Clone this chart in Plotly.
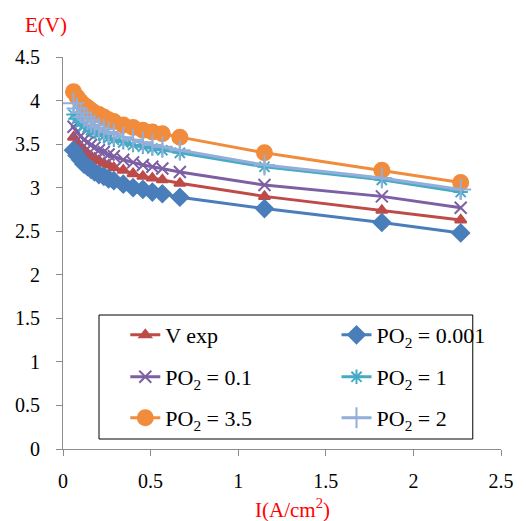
import plotly.graph_objects as go

current = [0.06, 0.08, 0.10, 0.12, 0.14, 0.16, 0.18, 0.205, 0.233, 0.26, 0.29, 0.344, 0.40, 0.456, 0.51, 0.567, 0.667, 1.15, 1.82, 2.27]

v_exp   = [3.58, 3.52, 3.47, 3.43, 3.39, 3.36, 3.34, 3.31, 3.28, 3.26, 3.23, 3.20, 3.16, 3.13, 3.11, 3.09, 3.05, 2.90, 2.74, 2.63]
po2_0001 = [3.43, 3.37, 3.32, 3.27, 3.24, 3.21, 3.18, 3.15, 3.13, 3.10, 3.08, 3.04, 3.00, 2.98, 2.95, 2.93, 2.89, 2.76, 2.60, 2.48]
po2_01  = [3.70, 3.64, 3.59, 3.55, 3.52, 3.49, 3.46, 3.43, 3.41, 3.38, 3.36, 3.32, 3.29, 3.26, 3.24, 3.22, 3.18, 3.03, 2.90, 2.77]
po2_1   = [3.84, 3.79, 3.75, 3.71, 3.69, 3.66, 3.64, 3.62, 3.59, 3.57, 3.55, 3.52, 3.49, 3.47, 3.45, 3.43, 3.40, 3.24, 3.09, 2.95]
po2_35  = [4.10, 4.04, 3.99, 3.95, 3.92, 3.89, 3.86, 3.84, 3.81, 3.78, 3.76, 3.72, 3.69, 3.66, 3.64, 3.62, 3.58, 3.40, 3.20, 3.06]
po2_2   = [3.97, 3.91, 3.86, 3.81, 3.78, 3.75, 3.72, 3.69, 3.67, 3.64, 3.62, 3.58, 3.55, 3.52, 3.49, 3.47, 3.43, 3.26, 3.11, 2.98]

names = ["V exp", "PO<sub>2</sub> = 0.001", "PO<sub>2</sub> = 0.1", "PO<sub>2</sub> = 1", "PO<sub>2</sub> = 3.5", "PO<sub>2</sub> = 2"]
series = [v_exp, po2_0001, po2_01, po2_1, po2_35, po2_2]

colors = ["#BE4B48", "#4A7EBB", "#7D5FA3", "#46AAC5", "#F08C3C", "#94AEDA"]
symbols = ["triangle-up", "diamond", "x-thin-open", "asterisk-open", "circle", "cross-thin-open"]
msizes = [10, 13, 12, 12, 15, 15]

FONT = "Times New Roman, Liberation Serif, DejaVu Serif, serif"

fig = go.Figure()
legend_ids = ["legend", "legend2", "legend3", "legend4", "legend5", "legend6"]
for i, (nm, ys) in enumerate(zip(names, series)):
    fig.add_trace(go.Scatter(
        x=current, y=ys, name=nm, mode="lines+markers",
        line=dict(color=colors[i], width=3),
        marker=dict(symbol=symbols[i], size=msizes[i], color=colors[i],
                    line=dict(color=colors[i], width=2)),
        legend=legend_ids[i],
    ))

W, H = 526, 521
L, R, T, B = 63, 13, 57, 72
pw, ph = W - L - R, H - T - B

def px_x(p):
    return (p - L) / pw

def px_y(p):
    return (H - B - p) / ph

col_x = [px_x(127), px_x(344)]
row_y = [px_y(335), px_y(377), px_y(418)]
leg_common = dict(bgcolor="rgba(0,0,0,0)", borderwidth=0, font=dict(family=FONT, size=22, color="black"),
                  xanchor="left", yanchor="middle", itemwidth=30)
positions = [(0, 0), (1, 0), (0, 1), (1, 1), (0, 2), (1, 2)]
legends = {}
for lid, (c, r) in zip(legend_ids, positions):
    legends[lid] = dict(x=col_x[c], y=row_y[r], **leg_common)

fig.update_layout(
    width=W, height=H,
    margin=dict(l=L, r=R, t=T, b=B, pad=0),
    paper_bgcolor="white", plot_bgcolor="white",
    font=dict(family=FONT, size=20, color="black"),
    showlegend=True,
    xaxis=dict(range=[0, 2.5], dtick=0.5, showgrid=False, zeroline=False,
               showline=True, linecolor="#8C8C8C", linewidth=1,
               ticks="outside", ticklen=6, tickcolor="#8C8C8C",
               tickfont=dict(family=FONT, size=20, color="black"),
               ticklabelstandoff=8),
    yaxis=dict(range=[0, 4.5], dtick=0.5, showgrid=False, zeroline=False,
               showline=True, linecolor="#8C8C8C", linewidth=1,
               ticks="outside", ticklen=6, tickcolor="#8C8C8C",
               tickfont=dict(family=FONT, size=20, color="black"),
               ticklabelstandoff=12),
    shapes=[dict(type="rect", xref="paper", yref="paper",
                 x0=px_x(100), x1=px_x(484), y0=px_y(439), y1=px_y(315),
                 line=dict(color="black", width=1), fillcolor="white", layer="below")],
    annotations=[
        dict(text="E(V)", xref="paper", yref="paper", x=px_x(46), y=px_y(25),
             xanchor="center", yanchor="middle", showarrow=False,
             font=dict(family=FONT, size=21, color="red")),
        dict(text="I(A/cm<sup>2</sup>)", xref="paper", yref="paper", x=px_x(299), y=px_y(508),
             xanchor="center", yanchor="middle", showarrow=False,
             font=dict(family=FONT, size=21, color="red")),
    ],
    **legends,
)

fig.write_html("out.html")
